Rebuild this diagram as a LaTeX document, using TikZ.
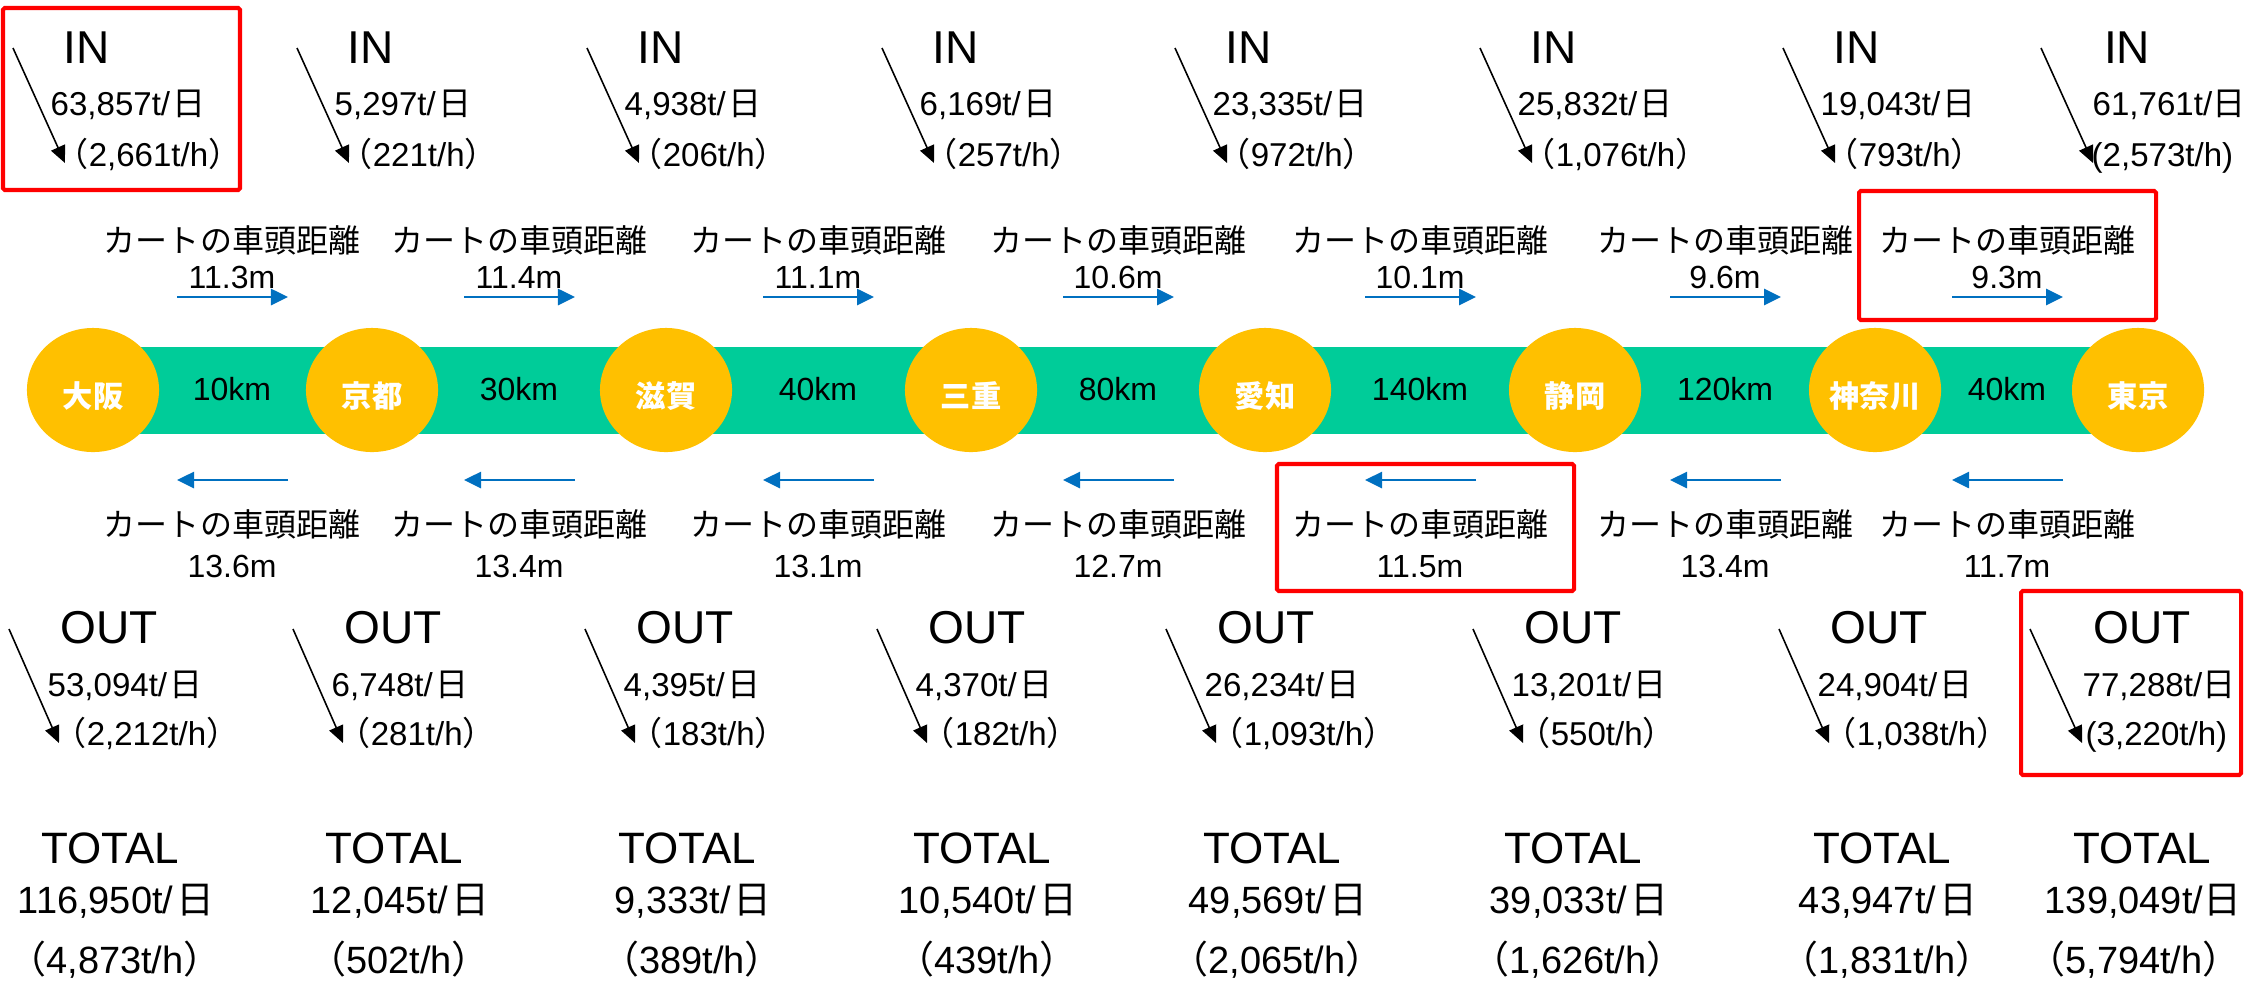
\documentclass[tikz,border=0pt]{standalone}
\usepackage{fontspec}
\setmainfont{Liberation Sans}
\newfontfamily\jp{Noto Sans CJK JP}
\usetikzlibrary{arrows.meta,shapes.geometric}
\definecolor{bandgreen}{RGB}{0,204,153}
\definecolor{gold}{RGB}{255,192,0}
\definecolor{arrblue}{RGB}{0,112,192}
\definecolor{boxred}{RGB}{255,0,0}
\newcommand\hi{\kern0.08em{\jp 日}}
\newcommand\inblk[4]{%
  \node[ttl] (#2i) at (#1,63) {IN};
  \node[numw] (#2id) at ({#1-37},115) {#3t/\hi};
  \node[numw] (#2ih) at ({#1-32},166) {{\jp （}#4t/h{\jp ）}};
  \coordinate (#2ia) at ({#1-74},48);
  \coordinate (#2ib) at ({#1-22},163);
  \draw[blk] (#2ia) -- (#2ib);}
\newcommand\outblk[4]{%
  \node[ttl] (#2o) at (#1,643) {OUT};
  \node[numw] (#2od) at ({#1-62},696) {#3t/\hi};
  \node[numw] (#2oh) at ({#1-56},745) {{\jp （}#4t/h{\jp ）}};
  \coordinate (#2oa) at ({#1-100},629);
  \coordinate (#2ob) at ({#1-50},743);
  \draw[blk] (#2oa) -- (#2ob);}
\newcommand\totblk[4]{%
  \node[ttot] (#2t) at (#1,863) {TOTAL};
  \node[numt] (#2td) at ({#1+6},913) {#3t/\hi};
  \node[numt] (#2th) at ({#1+5},973) {{\jp （}#4t/h{\jp ）}};}
\newcommand\segblk[6]{% #1 mid x, #2 name, #3 km, #4 upper, #5 lower
  \node[kmtxt] (#2km) at (#1,400) {#3};
  \node[lbl] (#2ul) at (#1,252) {\jp カートの車頭距離};
  \node[lbl] (#2uv) at (#1,288) {#4m};
  \coordinate (#2ua) at ({#1-55},297);
  \coordinate (#2ub) at ({#1+56},297);
  \draw[barr] (#2ua) -- (#2ub);
  \node[lbl] (#2ll) at (#1,536) {\jp カートの車頭距離};
  \node[lbl] (#2lv) at (#1,577) {#5m};
  \coordinate (#2la) at ({#1+56},480);
  \coordinate (#2lb) at ({#1-55},480);
  \draw[barr] (#2la) -- (#2lb);}
\begin{document}
\begin{tikzpicture}[x=0.01cm,y=-0.01cm,
  city/.style={ellipse, fill=gold, minimum width=1.32cm, minimum height=1.24cm,
    inner sep=0pt, text=white, text height=1em, text depth=0pt,
    font=\jp\bfseries\fontsize{8.6pt}{9pt}\selectfont},
  ttl/.style={anchor=base, inner sep=0pt, font=\fontsize{13.1pt}{14pt}\selectfont},
  ttot/.style={anchor=base, inner sep=0pt, font=\fontsize{12.5pt}{14pt}\selectfont},
  numw/.style={anchor=base west, inner sep=0pt, font=\fontsize{9.4pt}{11pt}\selectfont},
  numt/.style={anchor=base, inner sep=0pt, font=\fontsize{10.8pt}{12pt}\selectfont},
  lbl/.style={anchor=base, inner sep=0pt, font=\fontsize{9.1pt}{11pt}\selectfont},
  kmtxt/.style={anchor=base, inner sep=0pt, font=\fontsize{9.1pt}{11pt}\selectfont},
  blk/.style={draw=black, line width=0.45pt, -{Triangle[length=0.17cm,width=0.15cm]}},
  barr/.style={draw=arrblue, line width=0.75pt, -{Triangle[length=0.17cm,width=0.16cm]}},
  redbox/.style={draw=boxred, line width=1.15pt, rounded corners=0.5pt}]
\fill[white] (0,0) rectangle (2246,984);
\useasboundingbox (0,0) rectangle (2246,984);
% band
\fill[bandgreen] (93,347) rectangle (2138,434);
% cities
\node[city] (osaka) at (93,390) {大阪};
\node[city] (kyoto) at (372,390) {京都};
\node[city] (shiga) at (666,390) {滋賀};
\node[city] (mie) at (971,390) {三重};
\node[city] (aichi) at (1265,390) {愛知};
\node[city] (shizuoka) at (1575,390) {静岡};
\node[city] (kanagawa) at (1875,390) {神奈川};
\node[city] (tokyo) at (2138,390) {東京};
% segments
\segblk{232}{sa}{10km}{11.3}{13.6}{}
\segblk{519}{sb}{30km}{11.4}{13.4}{}
\segblk{818}{sc}{40km}{11.1}{13.1}{}
\segblk{1118}{sd}{80km}{10.6}{12.7}{}
\segblk{1420}{se}{140km}{10.1}{11.5}{}
\segblk{1725}{sf}{120km}{9.6}{13.4}{}
\segblk{2007}{sg}{40km}{9.3}{11.7}{}
% IN
\inblk{87}{osk}{63,857}{2,661}
\inblk{371}{kyt}{5,297}{221}
\inblk{661}{shg}{4,938}{206}
\inblk{956}{mie}{6,169}{257}
\inblk{1249}{aic}{23,335}{972}
\inblk{1554}{szk}{25,832}{1,076}
\inblk{1857}{kng}{19,043}{793}
\node[ttl] (tkyi) at (2127,63) {IN};
\node[numw] (tkyid) at (2092,115) {61,761t/{\jp 日}};
\node[numw] (tkyih) at (2091,166) {(2,573t/h)};
\coordinate (tkyia) at (2041,48);
\coordinate (tkyib) at (2093,163);
\draw[blk] (tkyia) -- (tkyib);
% OUT
\outblk{109}{osk}{53,094}{2,212}
\outblk{393}{kyt}{6,748}{281}
\outblk{685}{shg}{4,395}{183}
\outblk{977}{mie}{4,370}{182}
\outblk{1266}{aic}{26,234}{1,093}
\outblk{1573}{szk}{13,201}{550}
\outblk{1879}{kng}{24,904}{1,038}
\node[ttl] (tkyo) at (2142,643) {OUT};
\node[numw] (tkyod) at (2082,696) {77,288t/{\jp 日}};
\node[numw] (tkyoh) at (2085,745) {(3,220t/h)};
\coordinate (tkyoa) at (2030,629);
\coordinate (tkyob) at (2082,743);
\draw[blk] (tkyoa) -- (tkyob);
% TOTAL
\totblk{110}{osk}{116,950}{4,873}
\totblk{394}{kyt}{12,045}{502}
\totblk{687}{shg}{9,333}{389}
\totblk{982}{mie}{10,540}{439}
\totblk{1272}{aic}{49,569}{2,065}
\totblk{1573}{szk}{39,033}{1,626}
\totblk{1882}{kng}{43,947}{1,831}
\node[ttot] (tkyt) at (2142,863) {TOTAL};
\node[numt] (tkytd) at (2143,913) {139,049t/{\jp 日}};
\node[numt] (tkyth) at (2134,973) {{\jp （}5,794t/h{\jp ）}};
% red boxes
\draw[redbox] (3,8) rectangle (240,190);
\draw[redbox] (1859,191) rectangle (2156,320);
\draw[redbox] (1277,464) rectangle (1574,591);
\draw[redbox] (2021,591) rectangle (2241,775);
\end{tikzpicture}
\end{document}
